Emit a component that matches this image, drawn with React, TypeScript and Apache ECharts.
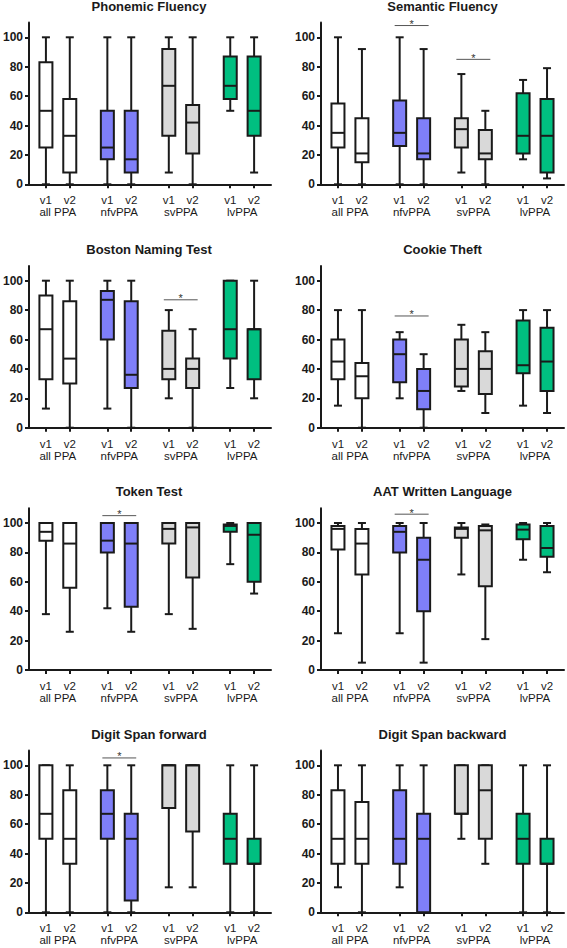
import React, { useEffect, useRef } from 'react';
import * as echarts from 'echarts';

// ---------- data ----------
const groups = ['all PPA', 'nfvPPA', 'svPPA', 'lvPPA'];
const visits = ['v1', 'v2'];
const groupColors = ['#ffffff', '#7f7ff8', '#d9d9d9', '#00bf80'];
const yTicks = [0, 20, 40, 60, 80, 100];

// each box: [min, q1, median, q3, max]; order: all v1, all v2, nfv v1, nfv v2, sv v1, sv v2, lv v1, lv v2
const phonemicFluency = [
  [0, 25, 50, 83, 100],
  [0, 8, 33, 58, 100],
  [0, 17, 25, 50, 100],
  [0, 8, 17, 50, 100],
  [8, 33, 67, 92, 100],
  [0, 21, 42, 54, 100],
  [50, 58, 67, 87, 100],
  [8, 33, 50, 87, 100],
];
const semanticFluency = [
  [0, 25, 35, 55, 100],
  [0, 15, 21, 45, 92],
  [0, 26, 35, 57, 100],
  [0, 17, 21, 45, 92],
  [8, 25, 37.5, 45, 75],
  [0, 17, 21, 37, 50],
  [17, 21, 33, 62, 71],
  [4, 8, 33, 58, 79],
];
const bostonNaming = [
  [13, 33, 67, 90, 100],
  [0, 30, 47, 86, 100],
  [13, 60, 87, 93, 100],
  [0, 27, 36, 86, 100],
  [20, 33, 40, 66, 80],
  [0, 27, 40, 47, 67],
  [27, 47, 67, 100, 100],
  [20, 33, 67, 67, 100],
];
const cookieTheft = [
  [15, 33, 45, 60, 80],
  [0, 20, 35, 44, 80],
  [20, 31, 50, 60, 65],
  [0, 12.5, 25, 40, 50],
  [25, 28, 40, 60, 70],
  [10, 23, 40, 52, 65],
  [15, 37, 42.5, 73, 80],
  [10, 25, 45, 68, 80],
];
const tokenTest = [
  [38, 88, 94, 100, 100],
  [26, 56, 86, 100, 100],
  [42, 80, 88, 100, 100],
  [26, 43, 86, 100, 100],
  [38, 86, 96, 100, 100],
  [28, 63, 97, 100, 100],
  [72, 94, 98, 99, 100],
  [52, 60, 92, 100, 100],
];
const aatWritten = [
  [25, 82, 96, 98, 100],
  [5, 65, 86, 96, 100],
  [25, 80, 94, 98, 100],
  [5, 40, 75, 90, 100],
  [65, 90, 96, 97, 100],
  [21, 57, 95, 98, 99],
  [75, 89, 95.5, 99, 100],
  [66.5, 77, 83, 98, 100],
];
const digitForward = [
  [0, 50, 67, 100, 100],
  [0, 33, 50, 83, 100],
  [0, 50, 67, 83, 100],
  [0, 8, 50, 67, 100],
  [17, 71, 100, 100, 100],
  [17, 55, 100, 100, 100],
  [0, 33, 50, 67, 100],
  [0, 33, 33, 50, 100],
];
const digitBackward = [
  [17, 33, 50, 83, 100],
  [0, 33, 50, 75, 100],
  [17, 33, 50, 83, 100],
  [0, 0, 50, 67, 100],
  [50, 67, 67, 100, 100],
  [33, 50, 83, 100, 100],
  [0, 33, 50, 67, 100],
  [0, 33, 33, 50, 100],
];

// significance bars: [group index, y value]
const sigPhonemic: number[][] = [];
const sigSemantic = [[1, 108], [2, 85]];
const sigBoston = [[2, 87]];
const sigCookie = [[1, 76]];
const sigToken = [[1, 105]];
const sigAat = [[1, 106]];
const sigDigitFwd = [[1, 105]];
const sigDigitBwd: number[][] = [];

const titles = [
  'Phonemic Fluency', 'Semantic Fluency',
  'Boston Naming Test', 'Cookie Theft',
  'Token Test', 'AAT Written Language',
  'Digit Span forward', 'Digit Span backward',
];
const panelData = [phonemicFluency, semanticFluency, bostonNaming, cookieTheft, tokenTest, aatWritten, digitForward, digitBackward];
const panelSig = [sigPhonemic, sigSemantic, sigBoston, sigCookie, sigToken, sigAat, sigDigitFwd, sigDigitBwd];

// ---------- layout ----------
const PITCH = 2.575;
const X_MIN = -0.708;
const X_MAX = 3 * PITCH + 1 + 0.708;
const colLeft = [27, 321];
const colWidth = [244, 243];
const rowAxis = [184.3, 427.7, 670, 912.3];
const gridH = 161.7;
const titleTop = [0, 242.5, 485, 727.5];
const INK = '#1a1a1a';
const FONT = "'Liberation Sans', Arial, sans-serif";

const pos = (g: number, v: number) => g * PITCH + v;
const boxPositions: number[] = [];
const boxLabels: Record<string, string> = {};
groups.forEach((_, g) => visits.forEach((vl, v) => {
  const p = pos(g, v);
  boxPositions.push(p);
  boxLabels[p.toFixed(3)] = vl;
}));
const groupCenters = groups.map((_, g) => pos(g, 0.5));
const groupLabels: Record<string, string> = {};
groups.forEach((name, g) => { groupLabels[pos(g, 0.5).toFixed(3)] = name; });

function renderBox(params: any, api: any) {
  const x = api.value(0);
  const c = (v: number) => api.coord([x, v]);
  const cx = c(api.value(1))[0];
  const yMin = c(api.value(1))[1];
  const yQ1 = c(api.value(2))[1];
  const yMed = c(api.value(3))[1];
  const yQ3 = c(api.value(4))[1];
  const yMax = c(api.value(5))[1];
  const color = groupColors[api.value(6)];
  const ls = { stroke: INK, lineWidth: 2 };
  const half = 6.5;
  const cap = 4;
  return {
    type: 'group',
    children: [
      { type: 'line', shape: { x1: cx, y1: yQ3, x2: cx, y2: yMax }, style: ls },
      { type: 'line', shape: { x1: cx - cap, y1: yMax, x2: cx + cap, y2: yMax }, style: ls },
      { type: 'line', shape: { x1: cx, y1: yQ1, x2: cx, y2: yMin }, style: ls },
      { type: 'line', shape: { x1: cx - cap, y1: yMin, x2: cx + cap, y2: yMin }, style: ls },
      { type: 'rect', shape: { x: cx - half, y: yQ3, width: half * 2, height: Math.max(yQ1 - yQ3, 0) }, style: { fill: color, stroke: INK, lineWidth: 2 } },
      { type: 'line', shape: { x1: cx - half, y1: yMed, x2: cx + half, y2: yMed }, style: ls },
    ],
  };
}

function renderSig(params: any, api: any) {
  const a = api.coord([api.value(0), api.value(2)]);
  const b = api.coord([api.value(1), api.value(2)]);
  const x1 = a[0] - 5;
  const x2 = b[0] + 5;
  const y = a[1];
  return {
    type: 'group',
    children: [
      { type: 'line', shape: { x1, y1: y, x2, y2: y }, style: { stroke: '#555', lineWidth: 1 } },
      { type: 'text', x: (x1 + x2) / 2, y: y - 1.5, style: { text: '*', fill: '#333', fontSize: 11, fontFamily: FONT, align: 'center', verticalAlign: 'middle' } },
    ],
  };
}

function buildOption() {
  const grid: any[] = [];
  const xAxis: any[] = [];
  const yAxis: any[] = [];
  const title: any[] = [];
  const series: any[] = [];
  panelData.forEach((data, i) => {
    const col = i % 2;
    const row = Math.floor(i / 2);
    grid.push({ left: colLeft[col], width: colWidth[col], top: rowAxis[row] - gridH, height: gridH, containLabel: false });
    title.push({
      text: titles[i], left: colLeft[col] + colWidth[col] / 2, top: titleTop[row], textAlign: 'center', padding: 0,
      textStyle: { fontFamily: FONT, fontSize: 13, fontWeight: 'bold', color: INK },
    });
    xAxis.push({
      type: 'value', gridIndex: i, min: X_MIN, max: X_MAX, position: 'bottom',
      splitLine: { show: false },
      axisLine: { show: true, onZero: false, lineStyle: { color: INK, width: 2 } },
      axisTick: { show: true, customValues: boxPositions, length: 4, lineStyle: { color: INK, width: 2 } },
      axisLabel: {
        show: true, customValues: boxPositions, margin: 10, fontFamily: FONT, fontSize: 11.5, color: INK,
        formatter: (v: number) => boxLabels[v.toFixed(3)] ?? '',
      },
    });
    xAxis.push({
      type: 'value', gridIndex: i, min: X_MIN, max: X_MAX, position: 'bottom',
      splitLine: { show: false },
      axisLine: { show: false, onZero: false },
      axisTick: { show: false },
      axisLabel: {
        show: true, customValues: groupCenters, margin: 22, fontFamily: FONT, fontSize: 11.5, color: INK,
        formatter: (v: number) => groupLabels[v.toFixed(3)] ?? '',
      },
    });
    yAxis.push({
      type: 'value', gridIndex: i, min: 0, max: 110, position: 'left',
      splitLine: { show: false },
      axisLine: { show: true, onZero: false, lineStyle: { color: INK, width: 2 } },
      axisTick: { show: true, customValues: yTicks, length: 4, lineStyle: { color: INK, width: 2 } },
      axisLabel: { show: true, customValues: yTicks, margin: 6, fontFamily: FONT, fontSize: 12, fontWeight: 'bold', color: INK },
    });
    series.push({
      type: 'custom', xAxisIndex: i * 2, yAxisIndex: i, renderItem: renderBox,
      encode: { x: 0, y: [1, 2, 3, 4, 5] },
      data: data.map((b, k) => [boxPositions[k], b[0], b[1], b[2], b[3], b[4], Math.floor(k / 2)]),
      z: 3,
    });
    if (panelSig[i].length) {
      series.push({
        type: 'custom', xAxisIndex: i * 2, yAxisIndex: i, renderItem: renderSig,
        encode: { x: [0, 1], y: 2 },
        data: panelSig[i].map(([g, y]) => [pos(g, 0), pos(g, 1), y]),
        z: 4,
      });
    }
  });
  return { animation: false, backgroundColor: '#ffffff', title, grid, xAxis, yAxis, series };
}

export default function App() {
  const ref = useRef<HTMLDivElement>(null);
  useEffect(() => {
    if (!ref.current) return;
    const chart = echarts.init(ref.current, undefined, { renderer: 'svg' });
    chart.setOption(buildOption() as any);
    return () => chart.dispose();
  }, []);
  return <div ref={ref} style={{ position: 'absolute', left: 0, top: 0, width: 567, height: 948, background: '#fff' }} />;
}
